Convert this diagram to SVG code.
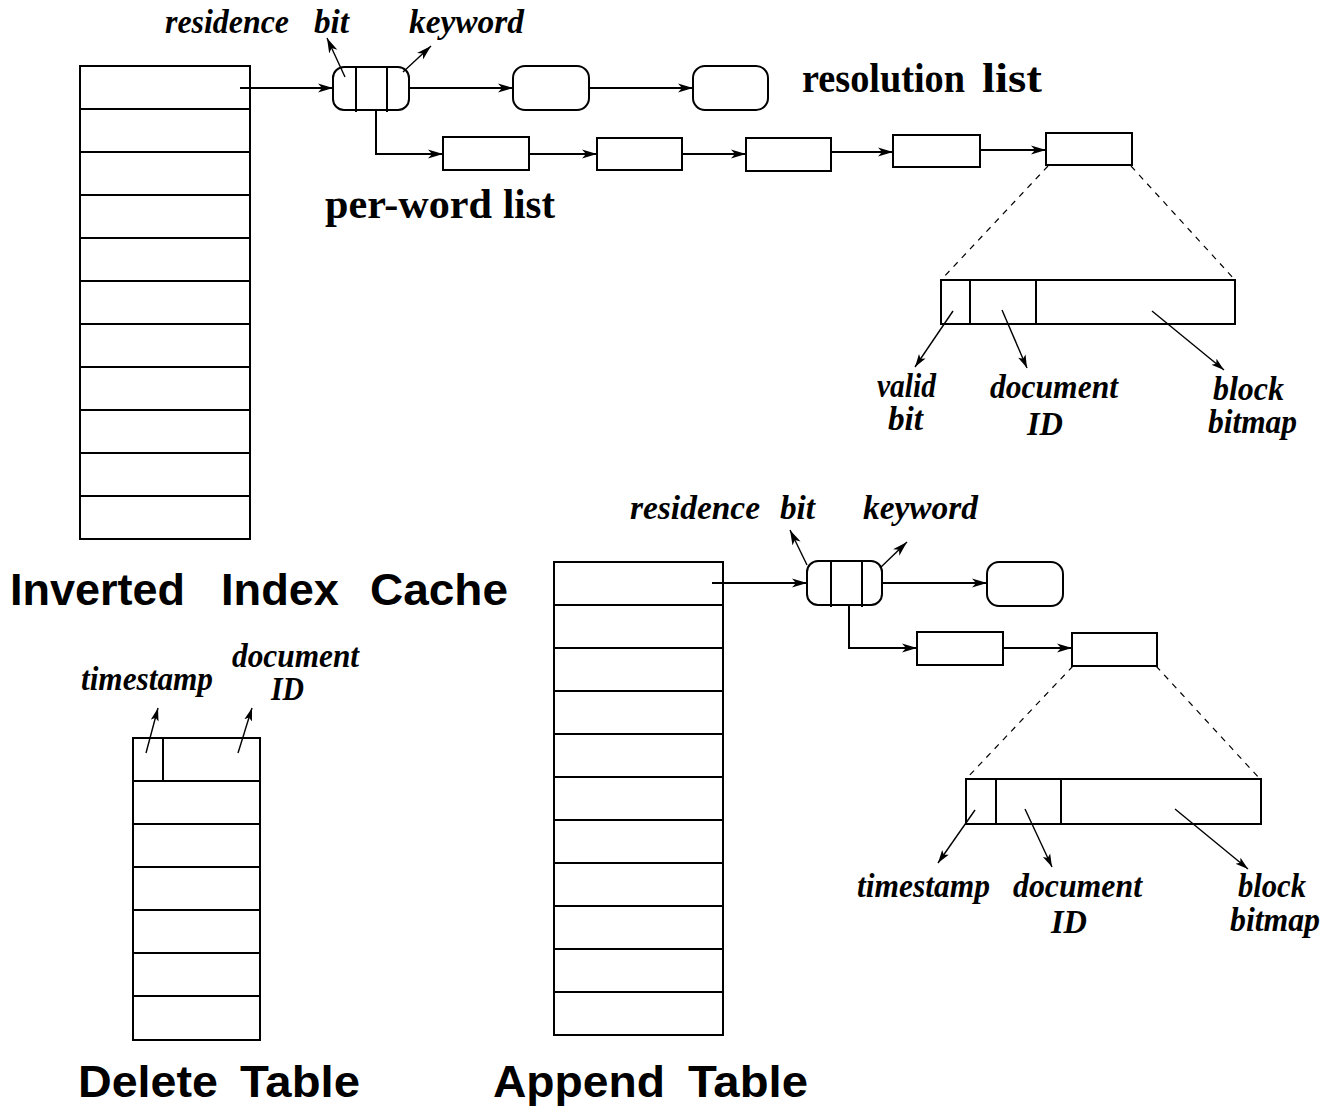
<svg xmlns="http://www.w3.org/2000/svg" width="1324" height="1111" viewBox="0 0 1324 1111">
  <style>
    .box { fill: #fff; stroke: #000; stroke-width: 2; }
    .ln { fill: none; stroke: #000; stroke-width: 2; }
    .thin { fill: none; stroke: #000; stroke-width: 1.4; }
    .dash { fill: none; stroke: #000; stroke-width: 1.2; stroke-dasharray: 6 6; }
    .lbl { font-family: "Liberation Serif", "Times New Roman", serif; font-weight: bold; font-style: italic; font-size: 33px; fill: #000; }
    .big { font-family: "Liberation Serif", "Times New Roman", serif; font-weight: bold; font-size: 42px; fill: #000; }
    .title { font-family: "Liberation Sans", Arial, sans-serif; font-weight: bold; font-size: 45px; fill: #000; }
  </style>
  <defs>
    <marker id="ah" markerUnits="userSpaceOnUse" markerWidth="18" markerHeight="12" refX="15" refY="5" orient="auto">
      <path d="M0,0.5 L15,5 L0,9.5 L4,5 Z" fill="#000"/>
    </marker>
    <marker id="ahs" markerUnits="userSpaceOnUse" markerWidth="16" markerHeight="12" refX="13" refY="4.5" orient="auto">
      <path d="M0,0.5 L13,4.5 L0,8.5 L3,4.5 Z" fill="#000"/>
    </marker>
  </defs>
  <rect width="1324" height="1111" fill="#fff"/>

  <!-- Inverted index cache table -->
  <g id="inverted-index-cache">
    <rect class="box" x="80" y="66" width="170" height="473"/>
    <path class="ln" d="M80,109H250M80,152H250M80,195H250M80,238H250M80,281H250M80,324H250M80,367H250M80,410H250M80,453H250M80,496H250"/>
    <text class="title" x="10" y="605" textLength="175" lengthAdjust="spacingAndGlyphs">Inverted</text>
    <text class="title" x="221" y="605" textLength="118" lengthAdjust="spacingAndGlyphs">Index</text>
    <text class="title" x="370" y="605" textLength="138" lengthAdjust="spacingAndGlyphs">Cache</text>
  </g>

  <!-- Keyword entry with residence bit (upper) -->
  <g id="entry-top">
    <rect class="box" x="333" y="67" width="76" height="43" rx="11"/>
    <path class="ln" d="M356,67V112M387,67V112"/>
    <text class="lbl" x="165" y="33" textLength="124" lengthAdjust="spacingAndGlyphs">residence</text>
    <text class="lbl" x="314" y="33" textLength="35" lengthAdjust="spacingAndGlyphs">bit</text>
    <text class="lbl" x="409" y="33" textLength="115" lengthAdjust="spacingAndGlyphs">keyword</text>
  </g>

  <!-- Resolution list -->
  <g id="resolution-list">
    <rect class="box" x="513" y="66" width="76" height="44" rx="12"/>
    <rect class="box" x="693" y="66" width="75" height="44" rx="12"/>
    <text class="big" x="802" y="92" textLength="163" lengthAdjust="spacingAndGlyphs">resolution</text>
    <text class="big" x="982" y="92" textLength="60" lengthAdjust="spacingAndGlyphs">list</text>
  </g>

  <!-- Per-word list -->
  <g id="per-word-list">
    <rect class="box" x="443" y="137" width="86" height="33"/>
    <rect class="box" x="597" y="138" width="85" height="32"/>
    <rect class="box" x="746" y="138" width="85" height="33"/>
    <rect class="box" x="893" y="135" width="87" height="32"/>
    <rect class="box" x="1046" y="133" width="86" height="32"/>
    <text class="big" x="325" y="218" textLength="167" lengthAdjust="spacingAndGlyphs">per-word</text>
    <text class="big" x="503" y="218" textLength="52" lengthAdjust="spacingAndGlyphs">list</text>
  </g>

  <!-- Expanded per-word entry (upper) -->
  <g id="record-top">
    <rect class="box" x="941" y="280" width="294" height="44"/>
    <path class="ln" d="M970,280V324M1036,280V324"/>
    <text class="lbl" x="877" y="397" textLength="59" lengthAdjust="spacingAndGlyphs">valid</text>
    <text class="lbl" x="888" y="430" textLength="35" lengthAdjust="spacingAndGlyphs">bit</text>
    <text class="lbl" x="990" y="398" textLength="128" lengthAdjust="spacingAndGlyphs">document</text>
    <text class="lbl" x="1027" y="435" textLength="36" lengthAdjust="spacingAndGlyphs">ID</text>
    <text class="lbl" x="1213" y="400" textLength="71" lengthAdjust="spacingAndGlyphs">block</text>
    <text class="lbl" x="1208" y="433" textLength="89" lengthAdjust="spacingAndGlyphs">bitmap</text>
  </g>

  <!-- Delete table -->
  <g id="delete-table">
    <rect class="box" x="133" y="738" width="127" height="302"/>
    <path class="ln" d="M163,738V781M133,781H260M133,824H260M133,867H260M133,910H260M133,953H260M133,996H260"/>
    <text class="lbl" x="81" y="690" textLength="132" lengthAdjust="spacingAndGlyphs">timestamp</text>
    <text class="lbl" x="232" y="667" textLength="127" lengthAdjust="spacingAndGlyphs">document</text>
    <text class="lbl" x="271" y="700" textLength="33" lengthAdjust="spacingAndGlyphs">ID</text>
    <text class="title" x="78" y="1097" textLength="140" lengthAdjust="spacingAndGlyphs">Delete</text>
    <text class="title" x="240" y="1097" textLength="120" lengthAdjust="spacingAndGlyphs">Table</text>
  </g>

  <!-- Append table -->
  <g id="append-table">
    <rect class="box" x="554" y="562" width="169" height="473"/>
    <path class="ln" d="M554,605H723M554,648H723M554,691H723M554,734H723M554,777H723M554,820H723M554,863H723M554,906H723M554,949H723M554,992H723"/>
    <text class="title" x="493" y="1097" textLength="172" lengthAdjust="spacingAndGlyphs">Append</text>
    <text class="title" x="688" y="1097" textLength="120" lengthAdjust="spacingAndGlyphs">Table</text>
  </g>

  <!-- Keyword entry with residence bit (lower) -->
  <g id="entry-bottom">
    <rect class="box" x="807" y="561" width="75" height="44" rx="11"/>
    <path class="ln" d="M831,561V607M862,561V607"/>
    <text class="lbl" x="630" y="519" textLength="130" lengthAdjust="spacingAndGlyphs">residence</text>
    <text class="lbl" x="780" y="519" textLength="35" lengthAdjust="spacingAndGlyphs">bit</text>
    <text class="lbl" x="863" y="519" textLength="115" lengthAdjust="spacingAndGlyphs">keyword</text>
  </g>

  <!-- Lower resolution and per-word lists -->
  <g id="lists-bottom">
    <rect class="box" x="987" y="562" width="76" height="44" rx="12"/>
    <rect class="box" x="917" y="632" width="86" height="33"/>
    <rect class="box" x="1072" y="633" width="85" height="33"/>
  </g>

  <!-- Expanded per-word entry (lower) -->
  <g id="record-bottom">
    <rect class="box" x="966" y="779" width="295" height="45"/>
    <path class="ln" d="M996,779V824M1061,779V824"/>
    <text class="lbl" x="857" y="897" textLength="133" lengthAdjust="spacingAndGlyphs">timestamp</text>
    <text class="lbl" x="1013" y="897" textLength="129" lengthAdjust="spacingAndGlyphs">document</text>
    <text class="lbl" x="1051" y="933" textLength="36" lengthAdjust="spacingAndGlyphs">ID</text>
    <text class="lbl" x="1238" y="897" textLength="68" lengthAdjust="spacingAndGlyphs">block</text>
    <text class="lbl" x="1230" y="931" textLength="90" lengthAdjust="spacingAndGlyphs">bitmap</text>
  </g>

  <!-- Connectors -->
  <g id="connectors">
    <!-- upper -->
    <path class="ln" d="M240,88H333" marker-end="url(#ah)"/>
    <path class="ln" d="M409,88H513" marker-end="url(#ah)"/>
    <path class="ln" d="M589,88H693" marker-end="url(#ah)"/>
    <path class="ln" d="M376,110V154H443" marker-end="url(#ah)"/>
    <path class="ln" d="M529,154H597" marker-end="url(#ah)"/>
    <path class="ln" d="M682,154H746" marker-end="url(#ah)"/>
    <path class="ln" d="M831,152H893" marker-end="url(#ah)"/>
    <path class="ln" d="M980,150H1046" marker-end="url(#ah)"/>
    <path class="thin" d="M345,77L327,38" marker-end="url(#ah)"/>
    <path class="thin" d="M403,72L431,46" marker-end="url(#ah)"/>
    <path class="dash" d="M1048,166L941,280"/>
    <path class="dash" d="M1131,166L1235,280"/>
    <path class="thin" d="M953,311L915,367" marker-end="url(#ahs)"/>
    <path class="thin" d="M1002,310L1027,368" marker-end="url(#ahs)"/>
    <path class="thin" d="M1152,311L1224,370" marker-end="url(#ahs)"/>
    <!-- delete table -->
    <path class="thin" d="M146,753L158,708" marker-end="url(#ahs)"/>
    <path class="thin" d="M238,753L252,708" marker-end="url(#ahs)"/>
    <!-- lower -->
    <path class="ln" d="M712,583H807" marker-end="url(#ah)"/>
    <path class="ln" d="M882,583H987" marker-end="url(#ah)"/>
    <path class="ln" d="M849,605V648H917" marker-end="url(#ah)"/>
    <path class="ln" d="M1003,648H1072" marker-end="url(#ah)"/>
    <path class="thin" d="M807,565L790,530" marker-end="url(#ah)"/>
    <path class="thin" d="M880,568L907,542" marker-end="url(#ah)"/>
    <path class="dash" d="M1073,666L966,779"/>
    <path class="dash" d="M1156,666L1260,779"/>
    <path class="thin" d="M975,810L938,863" marker-end="url(#ahs)"/>
    <path class="thin" d="M1025,809L1052,867" marker-end="url(#ahs)"/>
    <path class="thin" d="M1175,809L1248,869" marker-end="url(#ahs)"/>
  </g>
</svg>
